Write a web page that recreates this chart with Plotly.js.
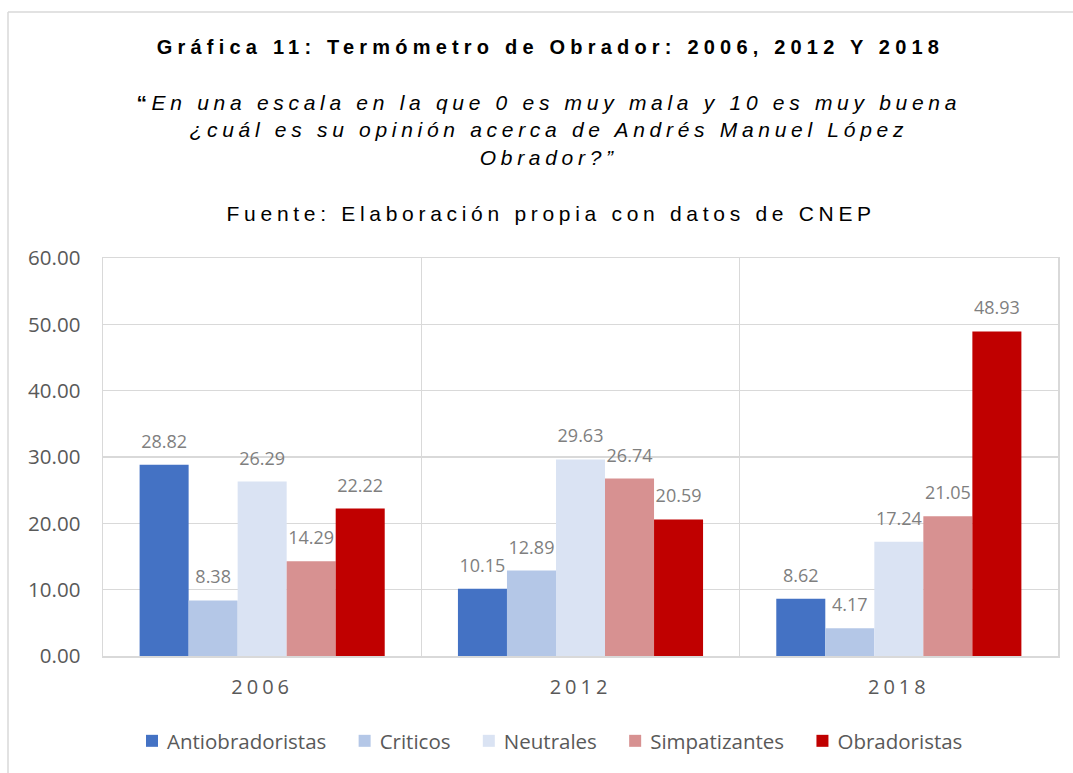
<!DOCTYPE html>
<html>
<head>
<meta charset="utf-8">
<script src="https://cdn.plot.ly/plotly-3.0.1.min.js"></script>
<style>
html, body { margin: 0; padding: 0; background: #fff; }
#chart { width: 1073px; height: 773px; }
.bars .bartext { translate: 0 -9px; }
.legend .legendtext { translate: -5px 0; }
.legend .scrollbox { clip-path: none !important; }
.legend [clip-path] { clip-path: none !important; }
</style>
</head>
<body>
<div id="chart"></div>
<script>
const categories = ["2006", "2012", "2018"];
const seriesNames = ["Antiobradoristas", "Criticos", "Neutrales", "Simpatizantes", "Obradoristas"];
const antiobradoristas = [28.82, 10.15, 8.62];
const criticos = [8.38, 12.89, 4.17];
const neutrales = [26.29, 29.63, 17.24];
const simpatizantes = [14.29, 26.74, 21.05];
const obradoristas = [22.22, 20.59, 48.93];
const yTicks = [0, 10, 20, 30, 40, 50, 60];
const titleText = "Gráfica 11: Termómetro de Obrador: 2006, 2012 Y 2018";
const subtitleText = "<b>“</b><i>En una escala en la que 0 es muy mala y 10 es muy buena<br>¿cuál es su opinión acerca de Andrés Manuel López<br>Obrador?”</i>";
const sourceText = "Fuente: Elaboración propia con datos de CNEP";

const seriesValues = [antiobradoristas, criticos, neutrales, simpatizantes, obradoristas];
const colors = ["#4472C4", "#B4C7E7", "#DAE3F3", "#D79191", "#C00000"];
const uiFont = "'Open Sans', Lato, sans-serif";
const titleFont = "'Liberation Sans', Arial, sans-serif";

const traces = seriesValues.map((vals, i) => ({
  type: "bar",
  name: seriesNames[i],
  x: categories,
  y: vals,
  marker: { color: colors[i], line: { width: 0 } },
  text: vals.map(v => v.toFixed(2)),
  textposition: "outside",
  textfont: { family: uiFont, size: 18, color: "#7F7F7F" },
  cliponaxis: false,
  hoverinfo: "none"
}));

const W = 955, H = 398, L = 103, T = 258;
const px = x => (x - L) / W;
const py = y => (T + H - y) / H;

const layout = {
  width: 1073,
  height: 773,
  margin: { l: 103, r: 15, t: 258, b: 117 },
  paper_bgcolor: "#fff",
  plot_bgcolor: "#fff",
  barmode: "group",
  bargap: 0.23,
  bargroupgap: 0,
  showlegend: true,
  legend: {
    orientation: "h",
    x: px(553), xanchor: "center",
    y: py(741), yanchor: "middle",
    font: { family: uiFont, size: 20.5, color: "#595959" },
    itemwidth: 30,
    traceorder: "normal"
  },
  xaxis: {
    type: "category",
    tickson: "boundaries",
    showgrid: true,
    gridcolor: "#D9D9D9",
    gridwidth: 1.5,
    showline: true,
    linecolor: "#D9D9D9",
    linewidth: 1.5,
    mirror: true,
    ticks: "",
    ticklabelstandoff: 12,
    tickfont: { family: uiFont, size: 20, color: "#595959" },
    fixedrange: true
  },
  yaxis: {
    range: [0, 60],
    tickvals: yTicks,
    tickformat: ".2f",
    showgrid: true,
    gridcolor: "#D9D9D9",
    gridwidth: 1.5,
    zeroline: false,
    showline: true,
    linecolor: "#D9D9D9",
    linewidth: 1.5,
    mirror: true,
    ticks: "",
    ticklabelstandoff: 17,
    tickfont: { family: uiFont, size: 20.5, color: "#595959" },
    fixedrange: true
  },
  shapes: [
    { type: "line", xref: "paper", yref: "paper", x0: px(8), x1: px(1080), y0: py(12), y1: py(12),
      line: { color: "#D9D9D9", width: 1.5 }, layer: "below" },
    { type: "line", xref: "paper", yref: "paper", x0: px(8), x1: px(8), y0: py(12), y1: py(790),
      line: { color: "#D9D9D9", width: 1.5 }, layer: "below" }
  ],
  annotations: [
    {
      xref: "paper", yref: "paper", x: px(550), y: py(47), xanchor: "center", yanchor: "middle",
      text: "<b>" + titleText + "</b>", showarrow: false,
      font: { family: titleFont, size: 20, color: "#000" }
    },
    {
      xref: "paper", yref: "paper", x: px(549), y: py(130), xanchor: "center", yanchor: "middle",
      text: subtitleText, showarrow: false,
      font: { family: titleFont, size: 21, color: "#000" }
    },
    {
      xref: "paper", yref: "paper", x: px(551), y: py(213), xanchor: "center", yanchor: "middle",
      text: sourceText, showarrow: false,
      font: { family: titleFont, size: 21, color: "#000" }
    }
  ]
};

Plotly.newPlot("chart", traces, layout, { displayModeBar: false, staticPlot: true }).then(() => {
  const spacings = [5.2, 4.7, 4.7];
  document.querySelectorAll(".infolayer .annotation").forEach((a, i) => {
    const t = a.querySelector("text");
    if (t) t.style.letterSpacing = (spacings[i] || 5) + "px";
  });
  document.querySelectorAll(".xtick text").forEach(t => { t.style.letterSpacing = "4px"; });
  document.querySelectorAll(".legend .traces").forEach((g, i) => {
    g.style.translate = (-17 + i * 8.3) + "px 0";
  });
});
</script>
</body>
</html>
